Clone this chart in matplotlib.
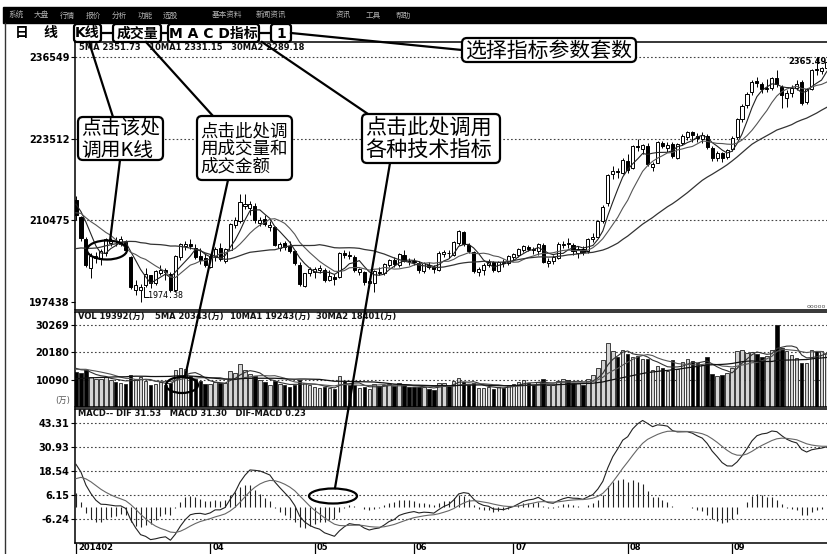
import numpy as np
import pandas as pd
import matplotlib
matplotlib.use("Agg")
import matplotlib.pyplot as plt
from matplotlib.patches import Rectangle, Ellipse, FancyBboxPatch

plt.rcParams['font.family'] = ['DejaVu Sans', 'Noto Sans CJK SC']

W, H = 828, 554

# ---------------- data ----------------
# trading days per month shown: Feb(part) .. Sep
MONTH_BARS = [6, 21, 21, 20, 20, 23, 21, 21]
MONTH_LABELS = ["201402", None, "04", "05", "06", "07", "08", "09"]

# closes before the visible window, only used to warm up MA / MACD
prior_closes = [2083, 2045, 2047, 2052, 2033, 2013, 2010, 2026, 2023, 2023,
                2004, 1991, 2008, 2051, 2042, 2055, 2033, 2038, 2049, 2033,
                2044, 2086, 2104, 2110, 2100, 2115, 2136, 2118, 2142, 2143]
prior_volumes = [9800, 9200, 8600, 8300, 8700, 8000, 7800, 8500, 8400, 8100,
                 7900, 7600, 8200, 11200, 10300, 10600, 8900, 8100, 8400, 7900,
                 8600, 12400, 13800, 14600, 13200, 13900, 15200, 14100, 15000, 14300]

opens = [
    2137, 2110, 2075, 2028, 2045, 2043,
    2053, 2068, 2072, 2067, 2070, 2046, 1994, 1993, 2002, 2017, 2005, 2020, 2026, 2019,
    1993, 2047, 2063, 2067, 2060, 2048, 2044,
    2031, 2046, 2060, 2040, 2058, 2097, 2104, 2128, 2125, 2128, 2100, 2107, 2094, 2094,
    2061, 2068, 2064, 2055, 2034, 2000, 2020,
    2022, 2026, 2026, 2010, 2015, 2014, 2052, 2049, 2047, 2022, 2022, 2004, 2005, 2022,
    2020, 2034, 2041, 2033, 2050, 2040,
    2039, 2037, 2024, 2034, 2030, 2025, 2051, 2053, 2050, 2069, 2086, 2065, 2054, 2022,
    2025, 2034, 2039, 2024, 2039, 2036,
    2047, 2050, 2058, 2062, 2058, 2056, 2066, 2036, 2040, 2045, 2066, 2068, 2065, 2052,
    2059, 2055, 2075, 2078, 2104, 2132, 2178, 2184, 2181,
    2199, 2188, 2224, 2219, 2224, 2190, 2197, 2228, 2220, 2226, 2205, 2228, 2238, 2246,
    2239, 2235, 2240, 2220, 2204, 2212, 2206,
    2218, 2237, 2266, 2289, 2309, 2327, 2322, 2314, 2316, 2332, 2318, 2300, 2308, 2316,
    2326, 2293, 2314, 2346, 2343, 2348, 2357,
]
highs = [
    2144, 2112, 2078, 2052, 2054, 2059,
    2077, 2076, 2078, 2080, 2074, 2048, 2009, 2003, 2028, 2018, 2025, 2033, 2028, 2022,
    2050, 2069, 2071, 2075, 2067, 2060, 2052,
    2051, 2062, 2068, 2061, 2100, 2110, 2146, 2146, 2136, 2133, 2110, 2113, 2103, 2096,
    2070, 2072, 2071, 2058, 2038, 2021, 2030,
    2031, 2034, 2028, 2025, 2019, 2054, 2058, 2055, 2049, 2029, 2024, 2012, 2025, 2030,
    2036, 2043, 2046, 2052, 2057, 2044,
    2045, 2040, 2038, 2038, 2033, 2055, 2058, 2057, 2072, 2090, 2088, 2068, 2056, 2031,
    2036, 2043, 2040, 2040, 2043, 2050,
    2053, 2060, 2066, 2065, 2062, 2068, 2068, 2045, 2050, 2070, 2072, 2076, 2068, 2064,
    2063, 2077, 2084, 2106, 2130, 2178, 2192, 2188, 2204,
    2210, 2225, 2234, 2226, 2228, 2198, 2231, 2232, 2230, 2230, 2228, 2243, 2248, 2248,
    2244, 2245, 2242, 2224, 2215, 2214, 2219,
    2240, 2268, 2290, 2309, 2329, 2334, 2325, 2330, 2334, 2345, 2320, 2312, 2320, 2328,
    2328, 2316, 2346, 2365.49, 2350, 2360, 2362,
]
lows = [
    2106, 2072, 2030, 2013, 2036, 2033,
    2048, 2063, 2063, 2064, 2052, 1995, 1985, 1974.38, 1999, 1996, 2002, 2018, 2009, 1990,
    1991, 2042, 2058, 2059, 2043, 2035, 2030,
    2028, 2040, 2040, 2036, 2057, 2092, 2101, 2123, 2113, 2101, 2095, 2096, 2087, 2063,
    2056, 2058, 2053, 2033, 2000, 1998, 2016,
    2013, 2021, 2007, 2008, 2002, 2012, 2044, 2043, 2022, 2017, 2001, 2001, 1991, 2018,
    2017, 2030, 2031, 2031, 2038, 2034,
    2033, 2021, 2020, 2027, 2021, 2024, 2046, 2044, 2048, 2066, 2063, 2053, 2021, 2016,
    2017, 2031, 2023, 2022, 2031, 2034,
    2042, 2046, 2054, 2055, 2051, 2049, 2036, 2030, 2035, 2043, 2061, 2060, 2050, 2045,
    2050, 2053, 2070, 2076, 2100, 2128, 2170, 2172, 2179,
    2180, 2186, 2215, 2210, 2192, 2183, 2196, 2220, 2214, 2204, 2203, 2225, 2233, 2230,
    2230, 2228, 2218, 2200, 2200, 2198, 2203,
    2215, 2235, 2262, 2284, 2305, 2318, 2308, 2310, 2313, 2318, 2284, 2286, 2302, 2312,
    2289, 2290, 2312, 2336, 2338, 2345, 2350,
]
closes = [
    2113.7, 2076.7, 2034.2, 2047.4, 2047.8, 2056.3,
    2075.2, 2071.5, 2071.1, 2075.2, 2057.9, 1999.1, 2001.2, 1997.7, 2019.1, 2004.3,
    2023.7, 2025.2, 2021.7, 1993.5, 2047.6, 2066.3, 2067.3, 2063.7, 2046.6, 2041.7, 2033.3,
    2047.5, 2059.1, 2043.7, 2058.8, 2098.3, 2105.0, 2134.3, 2130.5, 2131.5, 2105.1,
    2105.7, 2098.9, 2097.8, 2065.9, 2066.4, 2062.7, 2056.0, 2036.5, 2003.5, 2020.3, 2026.4,
    2027.3, 2028.0, 2010.1, 2015.3, 2011.1, 2052.9, 2050.1, 2047.9, 2025.0, 2026.5,
    2005.6, 2008.1, 2024.0, 2021.3, 2034.6, 2041.5, 2034.6, 2050.9, 2040.6, 2039.2,
    2038.3, 2024.8, 2035.9, 2029.9, 2026.7, 2052.5, 2054.3, 2051.9, 2070.7, 2087.3,
    2066.3, 2055.6, 2023.7, 2026.7, 2034.0, 2039.0, 2025.5, 2038.7, 2036.5, 2048.3,
    2050.4, 2059.4, 2063.2, 2059.4, 2057.9, 2066.7, 2038.7, 2039.5, 2046.9, 2067.3,
    2067.4, 2066.6, 2055.6, 2059.1, 2054.5, 2075.5, 2078.3, 2104.3, 2126.6, 2177.0,
    2183.4, 2181.2, 2201.6,
    2185.3, 2223.3, 2222.3, 2224.6, 2194.4, 2194.9, 2229.0, 2222.9, 2225.6, 2207.2,
    2226.7, 2239.5, 2245.3, 2240.8, 2236.0, 2240.8, 2222.0, 2205.0, 2212.0, 2205.0, 2217.2,
    2236.0, 2266.0, 2288.0, 2307.0, 2326.0, 2324.0, 2315.0, 2316.0, 2332.0, 2322.0,
    2305.0, 2308.0, 2316.0, 2323.0, 2292.0, 2314.0, 2345.0, 2344.0, 2348.0, 2357.0, 2364.6,
]
volumes = [
    12800, 12500, 13600, 11000, 10200, 10400,
    11200, 10100, 9400, 8800, 8600, 11800, 10300, 10900, 9600, 8100,
    8500, 9200, 8300, 8900, 13600, 14300, 13900, 11500, 10200, 9700, 8400,
    8600, 9200, 9000, 8800, 13200, 12400, 15700, 13800, 12000, 11600,
    9800, 9400, 8100, 9600, 8400, 8000, 7500, 8200, 9900, 8700, 8100,
    7300, 7100, 7400, 6900, 6600, 11600, 9600, 8300, 8000, 7000,
    7400, 6600, 8400, 7600, 8200, 8600, 7900, 8700, 8100, 7300,
    7200, 7300, 7500, 6700, 6400, 8800, 8700, 7800, 9600, 10800,
    9400, 8200, 8700, 7000, 6900, 7300, 6800, 7400, 6900, 8000,
    8600, 9400, 9800, 8700, 8200, 9400, 10200, 8300, 8000, 9600,
    10300, 9900, 9000, 8800, 8200, 10500, 11700, 14300, 17300, 23800, 20700, 18300, 21100,
    19500, 18600, 18900, 17600, 17800, 13600, 15200, 14300, 13400, 17200,
    13900, 16500, 17800, 16900, 16200, 15600, 18400, 12300, 11600, 11900, 12700,
    14400, 20600, 21200, 19800, 20400, 19600, 18400, 19000, 20900, 30269,
    21600, 20600, 19200, 18200, 16400, 16300, 21000, 20800, 20625, 19900, 19392,
]

PRICE_TICKS = [2365.49, 2235.12, 2104.75, 1974.38]
PRICE_TICK_LABELS = ["236549", "223512", "210475", "197438"]
VOL_TICKS = [30269, 20180, 10090]
MACD_TICKS = [43.31, 30.93, 18.54, 6.15, -6.24]

# ---------------- derived series ----------------
opens = np.array(opens, float)
closes = np.array(closes, float)
highs = np.maximum(np.array(highs, float), np.maximum(opens, closes))
lows = np.minimum(np.array(lows, float), np.minimum(opens, closes))
volumes = np.array(volumes, float)
n = len(closes)
x = np.arange(n)
npre = len(prior_closes)

all_close = pd.Series(np.concatenate([prior_closes, closes]))
all_vol = pd.Series(np.concatenate([prior_volumes, volumes]))
ma = {k: all_close.rolling(k, min_periods=1).mean().values[npre:] for k in (5, 10, 30)}
vma = {k: all_vol.rolling(k, min_periods=1).mean().values[npre:] for k in (5, 10, 30)}

ema12 = all_close.ewm(span=12, adjust=False).mean()
ema26 = all_close.ewm(span=26, adjust=False).mean()
dif_all = ema12 - ema26
dea_all = dif_all.ewm(span=9, adjust=False).mean()
dif = dif_all.values[npre:]
dea = dea_all.values[npre:]
hist = dif - dea

up = closes >= opens

# ---------------- figure ----------------
fig = plt.figure(figsize=(W / 100, H / 100), dpi=100)
fig.patch.set_facecolor("white")

PLOT_L, PLOT_R = 75, 828


def px_axes(l, t, r, b):
    return fig.add_axes([l / W, 1 - b / H, (r - l) / W, (b - t) / H])


XLIM = (-0.2, 151.3)
ax1 = px_axes(PLOT_L, 42, PLOT_R, 310)
ax2 = px_axes(PLOT_L, 312, PLOT_R, 407)
ax3 = px_axes(PLOT_L, 409, PLOT_R, 543)

for ax in (ax1, ax2, ax3):
    ax.set_xlim(*XLIM)
    ax.set_xticks([])
    ax.spines["right"].set_visible(False)
    for s in ("left", "top", "bottom"):
        ax.spines[s].set_linewidth(1.1)
    ax.tick_params(axis="y", length=3, width=0.8, pad=1, labelsize=7)

# price panel
ax1.set_ylim(1961.6, 2389.4)
ax1.set_yticks(PRICE_TICKS)
ax1.set_yticklabels(PRICE_TICK_LABELS, fontweight="bold", fontsize=7)
for t in PRICE_TICKS[:3]:
    ax1.axhline(t, color="#444444", lw=0.8, ls=(0, (1.5, 2)), zorder=0)
ax1.vlines(x, lows, highs, color="black", lw=0.7, zorder=2)
body_h = np.maximum(np.abs(closes - opens), 1.0)
ax1.bar(x, body_h, bottom=np.minimum(opens, closes), width=0.62,
        color=np.where(up, "white", "black"), edgecolor="black", linewidth=0.7, zorder=3)
ax1.plot(x, ma[5], color="#222222", lw=0.8, zorder=4)
ax1.plot(x, ma[10], color="#555555", lw=0.8, zorder=4)
ax1.plot(x, ma[30], color="#333333", lw=0.9, zorder=4)

# volume panel
ax2.set_ylim(0, 35067)
ax2.set_yticks(VOL_TICKS)
ax2.set_yticklabels([str(v) for v in VOL_TICKS], fontweight="bold", fontsize=7)
for t in VOL_TICKS:
    ax2.axhline(t, color="#444444", lw=0.8, ls=(0, (1.5, 2)), zorder=0)
ax2.bar(x, volumes, width=0.7, color=np.where(up, "#d4d4d4", "black"),
        edgecolor="#222222", linewidth=0.6, zorder=2)
ax2.plot(x, vma[5], color="#333333", lw=0.8, zorder=3)
ax2.plot(x, vma[10], color="#555555", lw=0.8, zorder=3)
ax2.plot(x, vma[30], color="#111111", lw=0.9, zorder=3)

# MACD panel
ax3.set_ylim(-18.6, 50.36)
ax3.set_yticks(MACD_TICKS)
ax3.set_yticklabels([f"{v:.2f}" for v in MACD_TICKS], fontweight="bold", fontsize=7)
for t in MACD_TICKS:
    ax3.axhline(t, color="#444444", lw=0.8, ls=(0, (1.5, 2)), zorder=0)
ax3.vlines(x, 0, hist, color="#222222", lw=0.8, zorder=2)
ax3.plot(x, dif, color="#222222", lw=0.8, zorder=3)
ax3.plot(x, dea, color="#666666", lw=0.8, zorder=3)

# month ticks along the bottom
starts = np.concatenate([[0], np.cumsum(MONTH_BARS)[:-1]])
tick_pos = [s for s, lab in zip(starts, MONTH_LABELS) if lab]
tick_lab = [lab for lab in MONTH_LABELS if lab]
ax3.set_xticks(tick_pos)
ax3.set_xticklabels([])
ax3.tick_params(axis="x", length=9, width=0.9, direction="out")

# ---------------- overlay in pixel coordinates ----------------
ov = fig.add_axes([0, 0, 1, 1])
ov.set_xlim(0, W)
ov.set_ylim(H, 0)
ov.axis("off")
ov.patch.set_visible(False)

px_per_bar = (PLOT_R - PLOT_L) / (XLIM[1] - XLIM[0])
for p, lab in zip(tick_pos, tick_lab):
    ov.text(PLOT_L + (p - XLIM[0]) * px_per_bar + 2, 552.5, lab, ha="left", va="bottom",
            fontsize=6, fontweight="bold")

# menu bar
ov.add_patch(Rectangle((3, 7), 825, 16, color="black"))
menu = [(8, "系统"), (34, "大盘"), (60, "行情"), (86, "报价"), (112, "分析"),
        (138, "功能"), (163, "选股"), (212, "基本资料"), (256, "新闻资讯"),
        (336, "资讯"), (366, "工具"), (396, "帮助")]
for mx, mt in menu:
    ov.text(mx, 15, mt, color="#b0b0b0", fontsize=5.5, va="center", ha="left")

# left frame line
ov.plot([5, 5], [23, H], color="#333333", lw=1.0)

# tab row
ov.text(22, 33, "日", fontsize=10, fontweight="bold", ha="center", va="center")
ov.text(50, 33, "线", fontsize=10, fontweight="bold", ha="center", va="center")
tabs = [(74, 101, "K线"), (113, 161, "成交量"), (168, 259, "M A C D指标"), (271, 291, "1")]
for l, r, t in tabs:
    ov.add_patch(FancyBboxPatch((l, 24), r - l, 18, boxstyle="round,pad=0,rounding_size=3",
                                fc="white", ec="black", lw=1.6, zorder=5))
    ov.text((l + r) / 2, 33.5, t, fontsize=10, fontweight="bold", ha="center",
            va="center", zorder=6)
for a, b in [(101, 113), (161, 168), (259, 271)]:
    ov.plot([a, b], [33, 33], color="black", lw=1.6, zorder=4)

# panel headers
hdr = dict(fontsize=6, fontweight="bold", ha="left", va="center", color="#111111")
ov.text(79, 47.5, "5MA 2351.73   10MA1 2331.15   30MA2 2289.18", **hdr)
ov.text(78, 316.5, "VOL 19392(万)", **hdr)
ov.text(155, 316.5, "5MA 20343(万)", **hdr)
ov.text(230, 316.5, "10MA1 19243(万)", **hdr)
ov.text(316, 316.5, "30MA2 18401(万)", **hdr)
ov.text(78, 413.5, "MACD-- DIF 31.53   MACD 31.30   DIF-MACD 0.23", **hdr)
ov.text(70, 400, "(万)", fontsize=6, ha="right", va="center", color="#555555")

# max / min markers
ov.text(788, 61, "2365.49", fontsize=6, fontweight="bold", ha="left", va="center")
ov.plot([144, 144, 148], [287, 297, 297], color="black", lw=0.7)
ov.text(148, 296, "1974.38", fontsize=6, ha="left", va="center", family="DejaVu Sans Mono")
ov.text(826, 309, "ooooo", fontsize=4.5, ha="right", va="bottom", color="#555555")

# callout boxes
callouts = [
    (78, 117, 163, 160, "点击该处\n调用K线", 14.2),
    (197, 116, 292, 180, "点击此处调\n用成交量和\n成交金额", 12.6),
    (362, 114, 500, 163, "点击此处调用\n各种技术指标", 15.2),
    (462, 38, 636, 62, "选择指标参数套数", 15.0),
]
for l, t, r, b, txt, fs in callouts:
    ov.add_patch(FancyBboxPatch((l, t), r - l, b - t, boxstyle="round,pad=0,rounding_size=5",
                                fc="white", ec="black", lw=1.6, zorder=7))
    ov.text(l + 3, (t + b) / 2 + 1, txt, fontsize=fs, ha="left", va="center",
            multialignment="left", linespacing=1.0, zorder=8, family="Noto Sans CJK SC")

# leader lines and ellipses
leaders = [
    ((89, 42), (113, 117)),
    ((120, 160), (110, 241)),
    ((146, 42), (213, 116)),
    ((228, 180), (185, 377)),
    ((262, 42), (368, 114)),
    ((390, 163), (335, 488)),
    ((291, 33), (462, 50)),
]
for (x0, y0), (x1, y1) in leaders:
    ov.plot([x0, x1], [y0, y1], color="black", lw=1.6, zorder=6)
for cx, cy, ew, eh in [(107, 250, 40, 19), (182, 385, 32, 16), (333, 496, 48, 15)]:
    ov.add_patch(Ellipse((cx, cy), ew, eh, fill=False, ec="black", lw=1.6, zorder=6))

fig.savefig("out.png", dpi=100)
